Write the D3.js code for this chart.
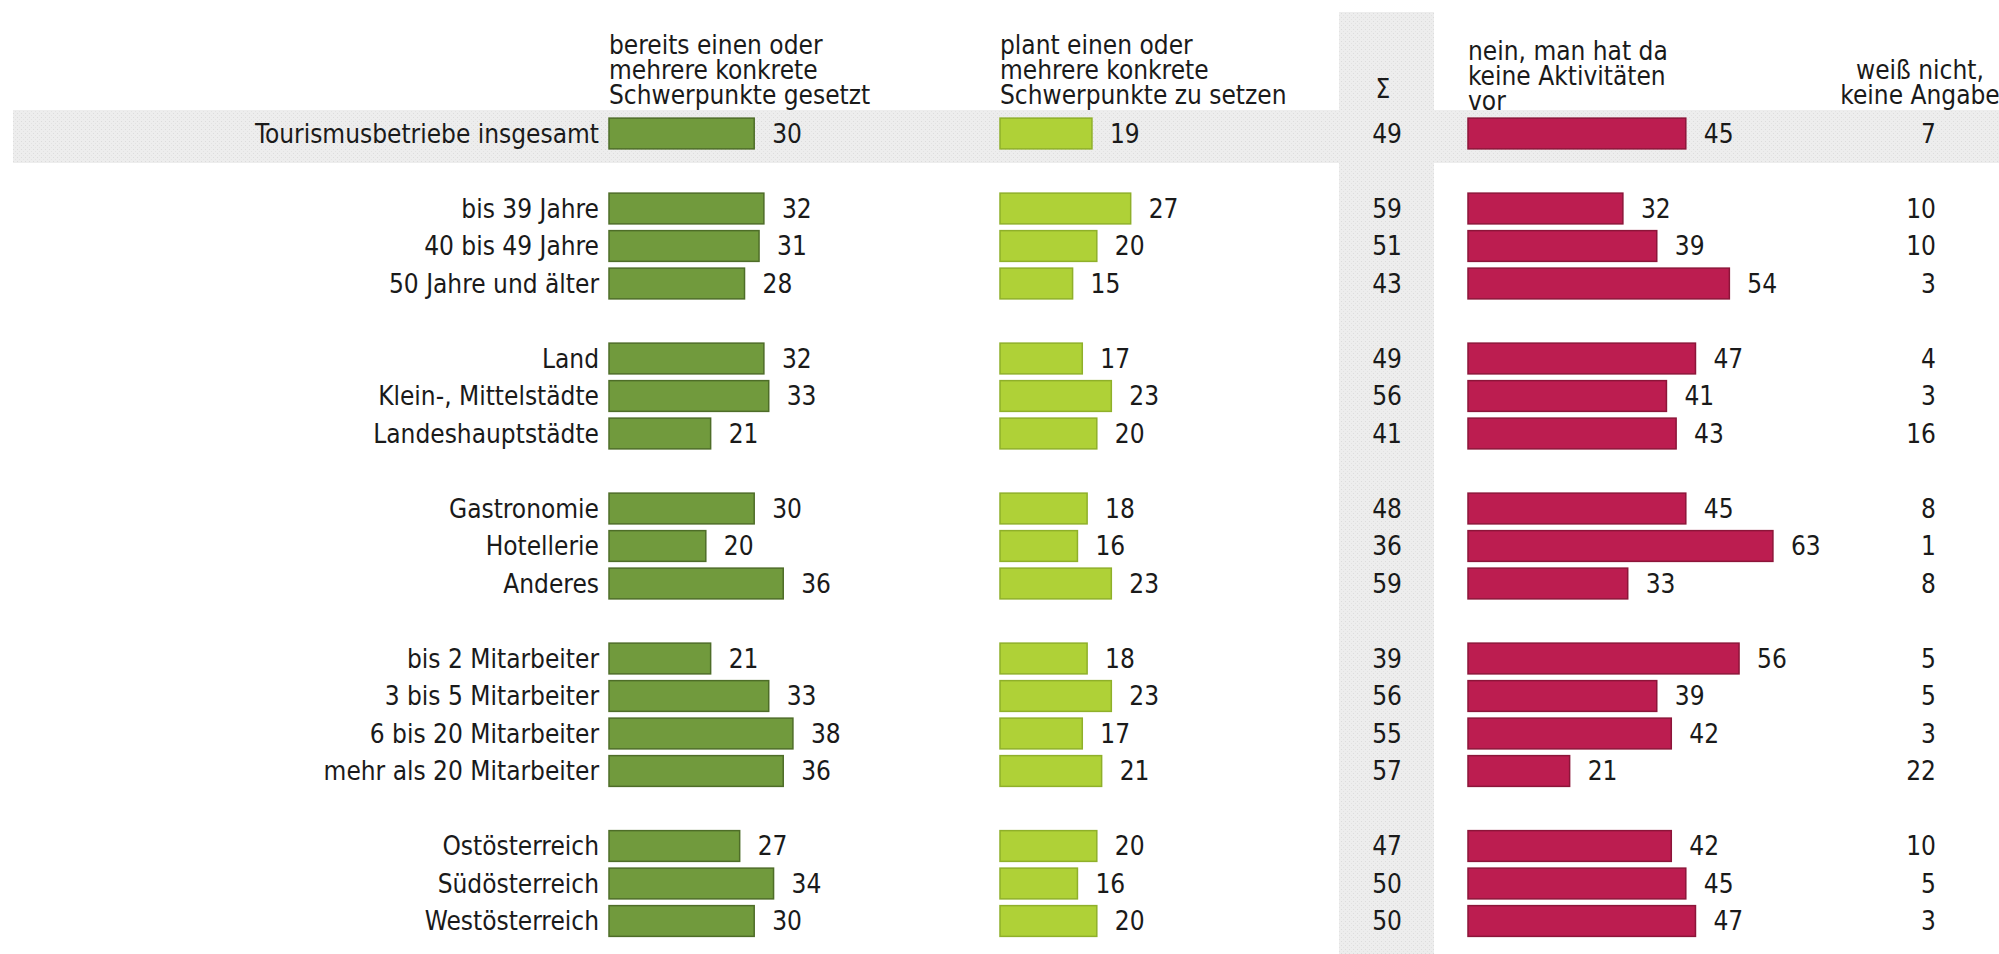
<!DOCTYPE html>
<html>
<head>
<meta charset="utf-8">
<script src="https://cdn.jsdelivr.net/npm/d3@7"></script>
<style>
  body { margin: 0; background: #fff; }
  svg text { font-family: "DejaVu Sans Condensed", "DejaVu Sans", sans-serif; font-size: 26px; fill: #1a1a1a; }
</style>
</head>
<body>
<svg id="chart" width="1999" height="954"></svg>
<script>
// Zeilen (Kategorien) und Werte in %
var categories = [
    "Tourismusbetriebe insgesamt",
    "bis 39 Jahre", "40 bis 49 Jahre", "50 Jahre und älter",
    "Land", "Klein-, Mittelstädte", "Landeshauptstädte",
    "Gastronomie", "Hotellerie", "Anderes",
    "bis 2 Mitarbeiter", "3 bis 5 Mitarbeiter", "6 bis 20 Mitarbeiter", "mehr als 20 Mitarbeiter",
    "Ostösterreich", "Südösterreich", "Westösterreich"
];
var groupSizes = [1, 3, 3, 3, 4, 3];

var gesetzt    = [30, 32, 31, 28, 32, 33, 21, 30, 20, 36, 21, 33, 38, 36, 27, 34, 30];
var plant      = [19, 27, 20, 15, 17, 23, 20, 18, 16, 23, 18, 23, 17, 21, 20, 16, 20];
var summe      = [49, 59, 51, 43, 49, 56, 41, 48, 36, 59, 39, 56, 55, 57, 47, 50, 50];
var nein       = [45, 32, 39, 54, 47, 41, 43, 45, 63, 33, 56, 39, 42, 21, 42, 45, 47];
var weissNicht = [7, 10, 10, 3, 4, 3, 16, 8, 1, 8, 5, 5, 3, 22, 10, 5, 3];

var headers = {
    gesetzt: ["bereits einen oder", "mehrere konkrete", "Schwerpunkte gesetzt"],
    plant: ["plant einen oder", "mehrere konkrete", "Schwerpunkte zu setzen"],
    summe: ["Σ"],
    nein: ["nein, man hat da", "keine Aktivitäten", "vor"],
    weissNicht: ["weiß nicht,", "keine Angabe"]
};

var svg = d3.select("#chart");

// Punktmuster fuer die grauen Flaechen
var defs = svg.append("defs");
var pat = defs.append("pattern")
    .attr("id", "dots")
    .attr("width", 4).attr("height", 4)
    .attr("patternUnits", "userSpaceOnUse");
pat.append("rect").attr("width", 4).attr("height", 4).attr("fill", "#ededed");
pat.append("rect").attr("x", 1).attr("y", 1).attr("width", 1).attr("height", 1).attr("fill", "#dcdcdc");
pat.append("rect").attr("x", 3).attr("y", 3).attr("width", 1).attr("height", 1).attr("fill", "#e2e2e2");

// Slots: jede Gruppe durch eine Leerzeile getrennt
var slotOf = [];
var slot = 0;
groupSizes.forEach(function(n, g) {
    for (var i = 0; i < n; i++) { slotOf.push(slot); slot++; }
    slot++;
});
var nSlots = slot - 1;

var y = d3.scaleBand()
    .domain(d3.range(nSlots))
    .range([114.75, 114.75 + nSlots * 37.5])
    .paddingInner(0.18)
    .paddingOuter(0.09);

function rowY(i) { return y(slotOf[i]); }
function rowC(i) { return y(slotOf[i]) + y.bandwidth() / 2; }

var x = d3.scaleLinear().domain([0, 100]).range([0, 484]);

// graue Spalte fuer Summe und graue Zeile fuer insgesamt
svg.append("rect")
    .attr("x", 1339).attr("y", 12)
    .attr("width", 95).attr("height", 954 - 12)
    .attr("fill", "url(#dots)");
svg.append("rect")
    .attr("x", 13).attr("y", 110)
    .attr("width", 1999 - 13).attr("height", 53)
    .attr("fill", "url(#dots)");

// Zeilenbeschriftung
svg.append("g").selectAll("text")
    .data(categories)
    .enter()
    .append("text")
    .attr("x", 599)
    .attr("y", function(d, i) { return rowC(i); })
    .attr("dy", "0.36em")
    .attr("text-anchor", "end")
    .text(function(d) { return d; });

var barSeries = [
    {key: "gesetzt", values: gesetzt, x0: 609, fill: "#719a3d", stroke: "#4e6d28"},
    {key: "plant", values: plant, x0: 1000, fill: "#afd137", stroke: "#8fb02a"},
    {key: "nein", values: nein, x0: 1468, fill: "#bc1d50", stroke: "#8c1539"}
];

barSeries.forEach(function(s) {
    var g = svg.append("g").attr("class", "series-" + s.key);

    g.selectAll("rect")
        .data(s.values)
        .enter()
        .append("rect")
        .attr("x", s.x0)
        .attr("y", function(d, i) { return rowY(i); })
        .attr("width", function(d) { return x(d); })
        .attr("height", y.bandwidth())
        .style("fill", s.fill)
        .style("stroke", s.stroke)
        .style("stroke-width", 1.5);

    g.selectAll("text")
        .data(s.values)
        .enter()
        .append("text")
        .attr("x", function(d) { return s.x0 + x(d) + 18; })
        .attr("y", function(d, i) { return rowC(i); })
        .attr("dy", "0.36em")
        .text(function(d) { return d; });
});

// Summe und weiss nicht
svg.append("g").selectAll("text")
    .data(summe)
    .enter()
    .append("text")
    .attr("x", 1402)
    .attr("y", function(d, i) { return rowC(i); })
    .attr("dy", "0.36em")
    .attr("text-anchor", "end")
    .text(function(d) { return d; });

svg.append("g").selectAll("text")
    .data(weissNicht)
    .enter()
    .append("text")
    .attr("x", 1936)
    .attr("y", function(d, i) { return rowC(i); })
    .attr("dy", "0.36em")
    .attr("text-anchor", "end")
    .text(function(d) { return d; });

// Spaltenkoepfe
function header(lines, xPos, lastBaseline, anchor) {
    var g = svg.append("g");
    g.selectAll("text")
        .data(lines)
        .enter()
        .append("text")
        .attr("x", xPos)
        .attr("y", function(d, i) { return lastBaseline - (lines.length - 1 - i) * 25; })
        .attr("text-anchor", anchor)
        .text(function(d) { return d; });
}
header(headers.gesetzt, 609, 104, "start");
header(headers.plant, 1000, 104, "start");
header(headers.summe, 1383, 98, "middle");
header(headers.nein, 1468, 110, "start");
header(headers.weissNicht, 1920, 104, "middle");
</script>
</body>
</html>
